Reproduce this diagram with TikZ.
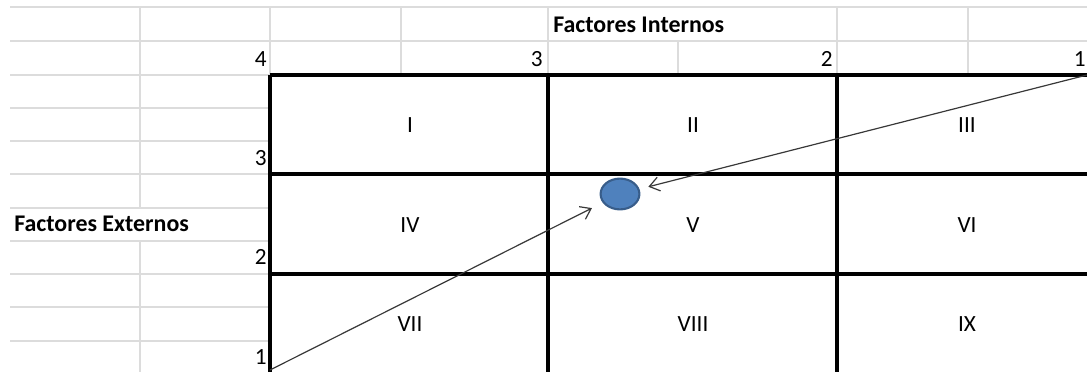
\documentclass[tikz,border=0pt]{standalone}
\usepackage{fontspec}
\setmainfont{Carlito}
\definecolor{XLgrid}{HTML}{DCDCDC}
\definecolor{XLblue}{HTML}{4F81BD}
\definecolor{XLblueline}{HTML}{385D8A}
\definecolor{XLarrow}{HTML}{383838}
\usetikzlibrary{arrows.meta, shapes.geometric}

\begin{document}
\begin{tikzpicture}[x=0.025cm, y=-0.025cm,
      gridline/.style={XLgrid, line width=0.9pt},
      boxline/.style={black, line width=2.4pt},
      cellnum/.style={anchor=base east, inner sep=0pt, font=\fontsize{16.5}{19}\selectfont},
      quadlbl/.style={anchor=base, inner sep=0pt, font=\fontsize{16.5}{19}\selectfont},
      head/.style={anchor=base west, inner sep=0pt, font=\fontsize{17}{20}\selectfont\bfseries},
      move/.style={-{Straight Barb[length=7pt, width=10pt]}, XLarrow, line width=0.85pt}]
   \useasboundingbox (0,0) rectangle (1087,372);
   % Spreadsheet grid
   \foreach \y in {7,41} \draw[gridline] (10,\y) -- (1087,\y);
   \foreach \y in {75,108,141,174,208,241,274,307,341} \draw[gridline] (10,\y) -- (270,\y);
   \draw[gridline] (140,7) -- (140,208);
   \draw[gridline] (140,241) -- (140,372);
   \foreach \x in {270,401,548,837,968} \draw[gridline] (\x,7) -- (\x,75);
   \draw[gridline] (678,41) -- (678,75);
   % Matrix
   \foreach \x in {270,548,837} \draw[boxline] (\x,75) -- (\x,372);
   \foreach \y in {75,174,274} \draw[boxline] (270,\y) -- (1087,\y);
   % Axis titles
   \node[head] (intern) at (553,33) {Factores Internos};
   \node[head] (extern) at (14,232) {Factores Externos};
   % Scale values
   \node[cellnum] (top4) at (267,67) {4};
   \node[cellnum] (top3) at (543,67) {3};
   \node[cellnum] (top2) at (833,67) {2};
   \node[cellnum] (top1) at (1086,67) {1};
   \node[cellnum] (left3) at (267,166) {3};
   \node[cellnum] (left2) at (267,265) {2};
   \node[cellnum] (left1) at (267,365) {1};
   % Cells
   \node[quadlbl] (cI) at (410,133) {I};
   \node[quadlbl] (cII) at (693,133) {II};
   \node[quadlbl] (cIII) at (967,133) {III};
   \node[quadlbl] (cIV) at (410,233) {IV};
   \node[quadlbl] (cV) at (693,233) {V};
   \node[quadlbl] (cVI) at (967,233) {VI};
   \node[quadlbl] (cVII) at (410,332) {VII};
   \node[quadlbl] (cVIII) at (693,332) {VIII};
   \node[quadlbl] (cIX) at (967,332) {IX};
   % Position of the firm
   \node[ellipse, draw=XLblueline, fill=XLblue, line width=1.5pt, inner sep=0pt,
      minimum width=0.97cm, minimum height=0.77cm] (pos) at (620,194) {};
   \coordinate (low) at (270,370);
   \coordinate (high) at (1087,75);
   \draw[move, shorten >=8.5pt] (low) -- (pos);
   \draw[move, shorten >=6.5pt] (high) -- (pos);
\end{tikzpicture}
\end{document}
